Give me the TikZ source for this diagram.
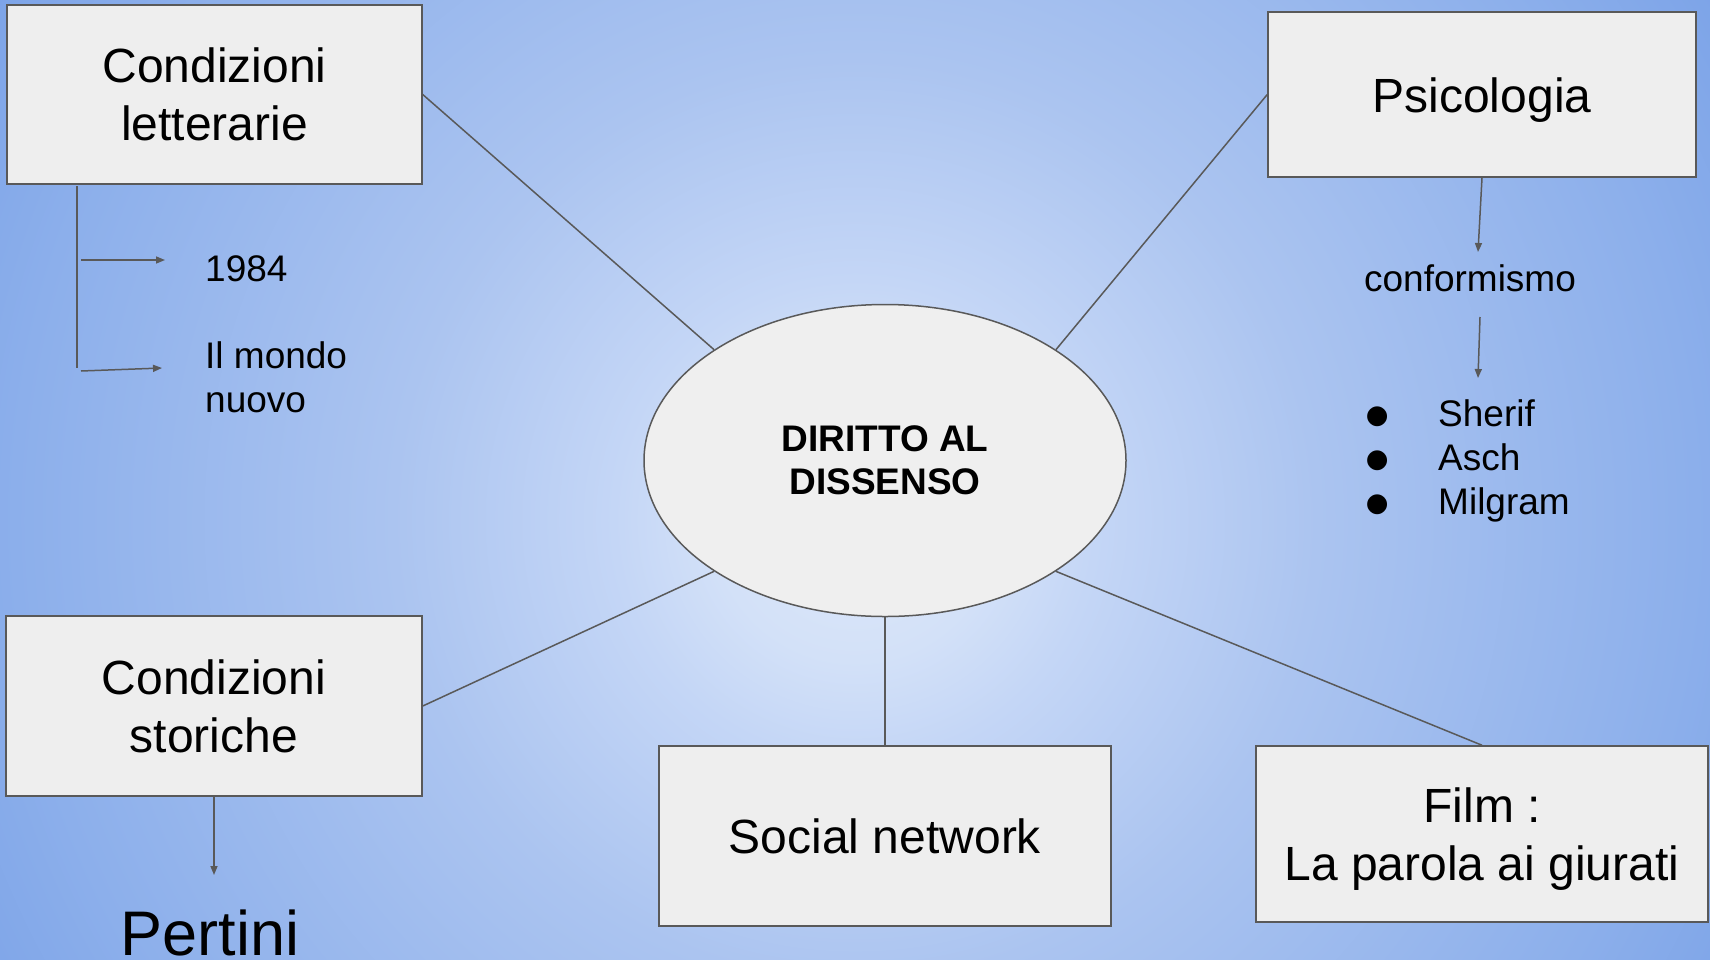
\documentclass[tikz,border=0pt]{standalone}
\usepackage{fontspec}
\setmainfont{Liberation Sans}
\newfontfamily\bulfont{DejaVu Sans}
\usetikzlibrary{arrows.meta,shapes.geometric}
\definecolor{bgA}{RGB}{222,232,250}
\definecolor{bgB}{RGB}{211,225,248}
\definecolor{bgF}{RGB}{196,214,246}
\definecolor{bgC}{RGB}{171,196,240}
\definecolor{bgD}{RGB}{140,175,235}
\definecolor{bgE}{RGB}{125,164,232}
\definecolor{lineC}{RGB}{89,89,89}
\definecolor{boxC}{RGB}{238,238,238}
\definecolor{ellC}{RGB}{239,239,239}
\pgfdeclareradialshading{bgshade}{\pgfpoint{0bp}{0bp}}{color(0bp)=(bgA); color(140bp)=(bgB); color(240bp)=(bgF); color(460bp)=(bgC); color(837bp)=(bgD); color(1000bp)=(bgE); color(1050bp)=(bgE)}
\newcommand\lbul{\makebox[0pt][c]{\raisebox{3pt}{\bulfont\fontsize{26}{26}\selectfont ●}}\hspace*{61pt}}
\begin{document}
\begin{tikzpicture}[x=1pt,y=-1pt,
  box/.style={draw=lineC, line width=1.5pt, fill=boxC, rectangle, inner sep=0pt, align=center, font=\fontsize{48}{58}\selectfont},
  conn/.style={draw=lineC, line width=1.5pt},
  arr/.style={conn, -{Triangle[length=9pt,width=7pt]}},
  txt/.style={inner sep=0pt, font=\fontsize{37}{44}\selectfont}]
\useasboundingbox (0,0) rectangle (1710,959);
\begin{scope}
  \clip (0,0) rectangle (1710,959);
  \pgftext[at=\pgfpointxy{855}{520}]{\pgfuseshading{bgshade}}
\end{scope}
% boxes
\node[box, minimum width=415pt, minimum height=179pt] (lett) at (214.5,94.5) {Condizioni\\letterarie};
\node[box, minimum width=428pt, minimum height=165pt] (psi) at (1482,94.5) {\rule{0pt}{45pt}Psicologia};
\node[box, minimum width=416pt, minimum height=180pt] (stor) at (214,706) {Condizioni\\storiche};
\node[box, minimum width=452pt, minimum height=180pt] (soc) at (885,836) {Social network};
\node[box, minimum width=452pt, minimum height=176pt] (film) at (1482,834) {\rule{0pt}{45pt}Film :\\La parola ai giurati};
\node[draw=lineC, line width=1.5pt, fill=ellC, ellipse, minimum width=482pt, minimum height=312pt, inner sep=0pt, align=center, font=\bfseries\fontsize{37}{43}\selectfont] (ctr) at (885,460.5) {DIRITTO AL\\DISSENSO};
% spokes
\draw[conn] (lett.east) -- (ctr.north west);
\draw[conn] (psi.west) -- (ctr.north east);
\draw[conn] (stor.east) -- (ctr.south west);
\draw[conn] (ctr.south) -- (soc.north);
\draw[conn] (ctr.south east) -- (film.north);
% left branch
\coordinate (vtop) at (77,186);
\coordinate (vbot) at (77,368);
\draw[conn] (vtop) -- (vbot);
\coordinate (b1s) at (81,260);
\coordinate (b1e) at (165,260);
\draw[arr] (b1s) -- (b1e);
\coordinate (b2s) at (81,371);
\coordinate (b2e) at (162,368);
\draw[arr] (b2s) -- (b2e);
\node[txt, anchor=base west] (t1984) at (205,281) {1984};
\node[txt, anchor=base west, align=left] (mondo) at (205,412) {Il mondo\\nuovo};
% right branch
\coordinate (p1e) at (1478,252);
\draw[arr] (psi.south) -- (p1e);
\node[txt, anchor=base] (conf) at (1470,291) {conformismo};
\coordinate (p2s) at (1480,317);
\coordinate (p2e) at (1478,378);
\draw[arr] (p2s) -- (p2e);
\node[txt, anchor=base west, align=left] (list) at (1377,514) {\lbul Sherif\\\lbul Asch\\\lbul Milgram};
% bottom left
\coordinate (s1e) at (214,875);
\draw[arr] (stor.south) -- (s1e);
\node[inner sep=0pt, anchor=base, font=\fontsize{63}{63}\selectfont] (pert) at (210,955) {Pertini};
\end{tikzpicture}
\end{document}
